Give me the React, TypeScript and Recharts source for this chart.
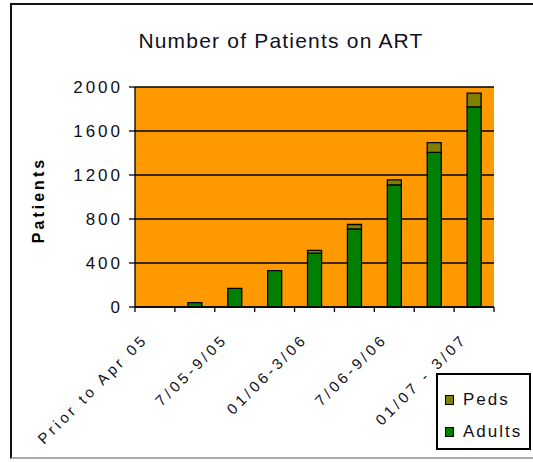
import React from 'react';
import { BarChart, Bar, XAxis, YAxis, CartesianGrid } from 'recharts';

const categories = [
  'Prior to Apr 05',
  '4/05-6/05',
  '7/05-9/05',
  '10/05-12/05',
  '01/06-3/06',
  '4/06-6/06',
  '7/06-9/06',
  '10/06-12/06',
  '01/07 - 3/07',
];
const adults = [0, 40, 170, 330, 490, 710, 1110, 1405, 1820];
const peds = [0, 0, 0, 0, 25, 40, 45, 90, 125];
const yTicks = [0, 400, 800, 1200, 1600, 2000];
const shownLabelIndexes = [0, 2, 4, 6, 8];

const seriesInfo = [
  { key: 'Adults', color: '#008000' },
  { key: 'Peds', color: '#808000' },
];

const data = categories.map((c, i) => ({ name: c, Adults: adults[i], Peds: peds[i] }));

const W = 533;
const H = 462;
const M = { top: 87, right: 39, bottom: 55, left: 0 };
const Y_W = 135;
const PLOT_W = W - M.left - M.right - Y_W;
const BAND = PLOT_W / categories.length;

const FONT = '"Liberation Sans", Arial, sans-serif';
const TXT = '#101020';

const XTick = (props: any) => {
  const { x, y, index, payload } = props;
  const left = x - BAND / 2;
  const right = x + BAND / 2;
  const ax = x - 6;
  const ay = y + 33;
  return (
    <g>
      <line x1={left} y1={y} x2={left} y2={y + 5} stroke="#000" strokeWidth={1.3} />
      {index === categories.length - 1 && (
        <line x1={right} y1={y} x2={right} y2={y + 5} stroke="#000" strokeWidth={1.3} />
      )}
      {shownLabelIndexes.includes(index) && (
        <text
          x={ax}
          y={ay}
          textAnchor="end"
          transform={`rotate(-45, ${ax}, ${ay})`}
          fill={TXT}
          fontSize={15}
          style={{ letterSpacing: '3.5px', fontFamily: FONT }}
        >
          {payload.value}
        </text>
      )}
    </g>
  );
};

export default function App() {
  const legendItems = [...seriesInfo].reverse();
  return (
    <div
      style={{
        position: 'absolute',
        left: 0,
        top: 0,
        width: W,
        height: H,
        background: '#fff',
        overflow: 'hidden',
        fontFamily: FONT,
      }}
    >
      <div
        style={{
          position: 'absolute',
          left: 10,
          top: 3,
          width: 540,
          height: 456,
          borderTop: '2px solid #111',
          borderLeft: '2px solid #111',
          borderBottom: '2px solid #aaa',
          boxSizing: 'border-box',
        }}
      />
      <div
        style={{
          position: 'absolute',
          left: 0,
          width: 562,
          top: 28,
          textAlign: 'center',
          fontSize: 21,
          letterSpacing: '1.2px',
          color: TXT,
          lineHeight: '26px',
          whiteSpace: 'nowrap',
        }}
      >
        Number of Patients on ART
      </div>
      <div
        style={{
          position: 'absolute',
          left: 39,
          top: 200,
          transform: 'translate(-50%, -50%) rotate(-90deg)',
          fontSize: 16,
          fontWeight: 'bold',
          letterSpacing: '3px',
          color: '#000',
          whiteSpace: 'nowrap',
          lineHeight: '18px',
        }}
      >
        Patients
      </div>
      <BarChart width={W} height={H} data={data} margin={M} barSize={14} style={{ position: 'absolute', left: 0, top: 0 }}>
        <CartesianGrid vertical={false} stroke="#000" strokeWidth={1.3} fill="#FF9900" fillOpacity={1} />
        <XAxis
          dataKey="name"
          interval={0}
          tickSize={0}
          tickMargin={0}
          tickLine={false}
          axisLine={{ stroke: '#000', strokeWidth: 1.3 }}
          height={100}
          tick={<XTick />}
        />
        <XAxis xAxisId="top" dataKey="name" orientation="top" height={0} tick={false} tickLine={false} axisLine={{ stroke: '#999', strokeWidth: 1.5 }} />
        <YAxis
          domain={[0, 2000]}
          ticks={yTicks}
          interval={0}
          width={Y_W}
          tickSize={6}
          tickMargin={6}
          axisLine={{ stroke: '#000', strokeWidth: 1.3 }}
          tickLine={{ stroke: '#000', strokeWidth: 1.3 }}
          tick={{ fill: TXT, fontSize: 17, fontFamily: FONT, letterSpacing: '3px' } as any}
        />
        <YAxis yAxisId="right" orientation="right" domain={[0, 2000]} width={0} tick={false} tickLine={false} axisLine={{ stroke: '#999', strokeWidth: 1.5 }} />
        {seriesInfo.map((s) => (
          <Bar key={s.key} dataKey={s.key} stackId="a" fill={s.color} stroke="#000" strokeWidth={1.3} isAnimationActive={false} />
        ))}
      </BarChart>
      <div
        style={{
          position: 'absolute',
          left: 436,
          top: 373,
          width: 95,
          height: 77,
          border: '2px solid #000',
          background: '#fff',
          boxSizing: 'border-box',
          paddingTop: 9,
          paddingLeft: 7,
        }}
      >
        {legendItems.map((it) => (
          <div key={it.key} style={{ display: 'flex', alignItems: 'center', height: 32 }}>
            <span
              style={{
                display: 'inline-block',
                width: 7,
                height: 8,
                background: it.color,
                border: '1.5px solid #000',
                marginRight: 9,
              }}
            />
            <span style={{ fontSize: 17, letterSpacing: '2px', color: TXT }}>{it.key}</span>
          </div>
        ))}
      </div>
    </div>
  );
}
